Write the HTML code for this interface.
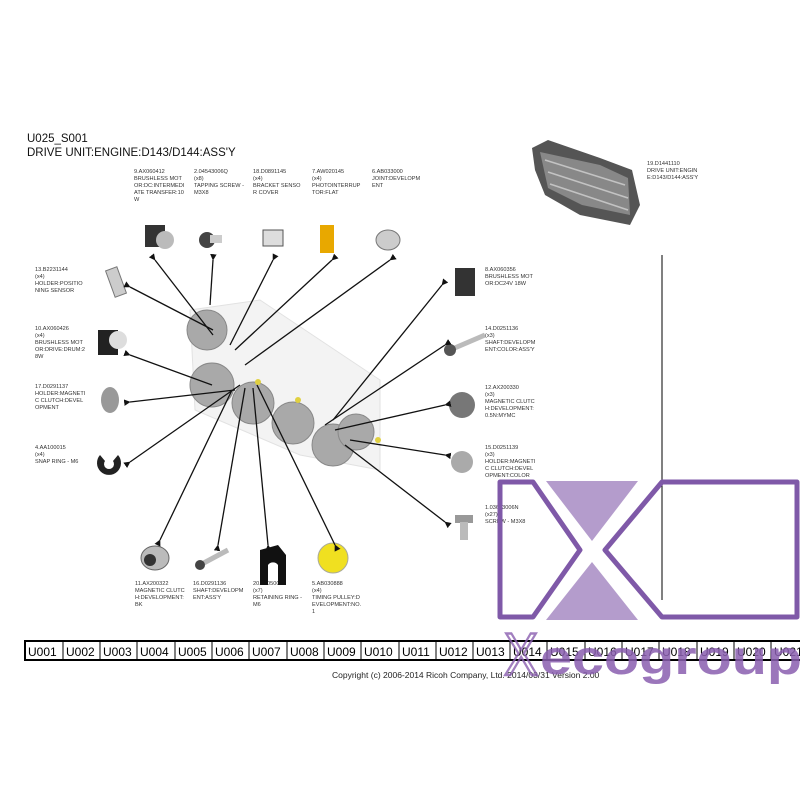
<!DOCTYPE html>
<html><head><meta charset="utf-8"><style>
body{margin:0;background:#fff;width:800px;height:800px;overflow:hidden;font-family:"Liberation Sans",sans-serif}
svg{position:absolute;left:0;top:0}
</style></head><body>
<svg width="800" height="800" viewBox="0 0 800 800" font-family="Liberation Sans, sans-serif">
<defs><marker id="a" viewBox="0 0 10 10" refX="1" refY="5" markerWidth="5" markerHeight="5" orient="auto-start-reverse"><path d="M0 5 L10 0 L10 10z" fill="#111"/></marker></defs>
<text x="27" y="142" font-size="11.5" fill="#111">U025_S001</text>
<text x="27" y="156" font-size="11.5" fill="#111">DRIVE UNIT:ENGINE:D143/D144:ASS'Y</text>
<g font-size="5.6" fill="#333">
<text x="134" y="173">9.AX060412</text><text x="134" y="180">BRUSHLESS MOT</text><text x="134" y="187">OR:DC:INTERMEDI</text><text x="134" y="194">ATE TRANSFER:10</text><text x="134" y="201">W</text>
<text x="194" y="173">2.04543006Q</text><text x="194" y="180">(x8)</text><text x="194" y="187">TAPPING SCREW -</text><text x="194" y="194">M3X8</text>
<text x="253" y="173">18.D0891145</text><text x="253" y="180">(x4)</text><text x="253" y="187">BRACKET SENSO</text><text x="253" y="194">R COVER</text>
<text x="312" y="173">7.AW020145</text><text x="312" y="180">(x4)</text><text x="312" y="187">PHOTOINTERRUP</text><text x="312" y="194">TOR:FLAT</text>
<text x="372" y="173">6.AB033000</text><text x="372" y="180">JOINT:DEVELOPM</text><text x="372" y="187">ENT</text>
<text x="647" y="165">19.D1441110</text><text x="647" y="172">DRIVE UNIT:ENGIN</text><text x="647" y="179">E:D143/D144:ASS'Y</text>
<text x="35" y="271">13.B2231144</text><text x="35" y="278">(x4)</text><text x="35" y="285">HOLDER:POSITIO</text><text x="35" y="292">NING SENSOR</text>
<text x="35" y="330">10.AX060426</text><text x="35" y="337">(x4)</text><text x="35" y="344">BRUSHLESS MOT</text><text x="35" y="351">OR:DRIVE:DRUM:2</text><text x="35" y="358">8W</text>
<text x="35" y="388">17.D0291137</text><text x="35" y="395">HOLDER:MAGNETI</text><text x="35" y="402">C CLUTCH:DEVEL</text><text x="35" y="409">OPMENT</text>
<text x="35" y="449">4.AA100015</text><text x="35" y="456">(x4)</text><text x="35" y="463">SNAP RING - M6</text>
<text x="485" y="271">8.AX060356</text><text x="485" y="278">BRUSHLESS MOT</text><text x="485" y="285">OR:DC24V 18W</text>
<text x="485" y="330">14.D0251136</text><text x="485" y="337">(x3)</text><text x="485" y="344">SHAFT:DEVELOPM</text><text x="485" y="351">ENT:COLOR:ASS'Y</text>
<text x="485" y="389">12.AX200330</text><text x="485" y="396">(x3)</text><text x="485" y="403">MAGNETIC CLUTC</text><text x="485" y="410">H:DEVELOPMENT:</text><text x="485" y="417">0.5N:MYMC</text>
<text x="485" y="449">15.D0251139</text><text x="485" y="456">(x3)</text><text x="485" y="463">HOLDER:MAGNETI</text><text x="485" y="470">C CLUTCH:DEVEL</text><text x="485" y="477">OPMENT:COLOR</text>
<text x="485" y="509">1.03613006N</text><text x="485" y="516">(x27)</text><text x="485" y="523">SCREW - M3X8</text>
<text x="135" y="585">11.AX200322</text><text x="135" y="592">MAGNETIC CLUTC</text><text x="135" y="599">H:DEVELOPMENT:</text><text x="135" y="606">BK</text>
<text x="193" y="585">16.D0291136</text><text x="193" y="592">SHAFT:DEVELOPM</text><text x="193" y="599">ENT:ASS'Y</text>
<text x="253" y="585">20.08050088</text><text x="253" y="592">(x7)</text><text x="253" y="599">RETAINING RING -</text><text x="253" y="606">M6</text>
<text x="312" y="585">5.AB030888</text><text x="312" y="592">(x4)</text><text x="312" y="599">TIMING PULLEY:D</text><text x="312" y="606">EVELOPMENT:NO.</text><text x="312" y="613">1</text>
</g>
<!-- unit image top right -->
<g>
<polygon points="532,148 548,140 600,158 632,170 640,205 630,225 580,215 545,195 535,170" fill="#555"/>
<polygon points="540,152 600,165 628,178 630,215 582,205 548,188" fill="#888"/>
<g stroke="#ddd" stroke-width="1.5" opacity=".7"><line x1="545" y1="160" x2="625" y2="185"/><line x1="548" y1="172" x2="628" y2="198"/><line x1="550" y1="184" x2="628" y2="210"/></g>
</g>
<line x1="662" y1="255" x2="662" y2="600" stroke="#000" stroke-width="1"/>
<!-- central assembly -->
<g fill="#f3f3f3" stroke="#e2e2e2"><path d="M190 310 L260 300 L380 380 L380 470 L300 455 L195 410 Z"/></g>
<g fill="#a9a9a9" stroke="#888">
<circle cx="207" cy="330" r="20"/><circle cx="212" cy="385" r="22"/><circle cx="253" cy="403" r="21"/><circle cx="293" cy="423" r="21"/><circle cx="333" cy="445" r="21"/><circle cx="356" cy="432" r="18"/>
</g>
<g fill="#e0d040"><circle cx="258" cy="382" r="3"/><circle cx="298" cy="400" r="3"/><circle cx="378" cy="440" r="3"/></g>
<!-- part icons -->
<g>
<rect x="145" y="225" width="20" height="22" fill="#333"/><circle cx="165" cy="240" r="9" fill="#bbb"/>
<circle cx="207" cy="240" r="8" fill="#444"/><rect x="210" y="235" width="12" height="8" fill="#ccc"/>
<rect x="263" y="230" width="20" height="16" fill="#ddd" stroke="#555"/>
<rect x="320" y="225" width="14" height="28" fill="#e8a800"/>
<ellipse cx="388" cy="240" rx="12" ry="10" fill="#ccc" stroke="#777"/>
<rect x="110" y="268" width="12" height="28" fill="#ccc" stroke="#777" transform="rotate(-20 116 282)"/>
<rect x="98" y="330" width="20" height="25" fill="#222"/><circle cx="118" cy="340" r="9" fill="#ddd"/>
<ellipse cx="110" cy="400" rx="9" ry="13" fill="#999"/>
<path d="M100 455 a12 12 0 1 0 18 0 l-5 6 a5 5 0 1 1 -8 0z" fill="#222"/>
<rect x="455" y="268" width="20" height="28" fill="#333"/>
<line x1="450" y1="350" x2="485" y2="335" stroke="#bbb" stroke-width="5"/><circle cx="450" cy="350" r="6" fill="#555"/>
<circle cx="462" cy="405" r="13" fill="#777"/>
<circle cx="462" cy="462" r="11" fill="#aaa"/>
<rect x="455" y="515" width="18" height="8" fill="#999"/><rect x="460" y="522" width="8" height="18" fill="#bbb"/>
<ellipse cx="155" cy="558" rx="14" ry="12" fill="#bbb" stroke="#666"/><circle cx="150" cy="560" r="6" fill="#333"/>
<line x1="200" y1="565" x2="228" y2="550" stroke="#bbb" stroke-width="5"/><circle cx="200" cy="565" r="5" fill="#444"/>
<path d="M260 550 l18 -5 l8 10 v30 h-8 v-20 a6 6 0 0 0 -10 0 v20 h-8z" fill="#111"/>
<ellipse cx="333" cy="558" rx="15" ry="15" fill="#f0e020" stroke="#aa9"/>
</g>
<g stroke="#111" stroke-width="1.3" marker-start="url(#a)">
<line x1="155" y1="260" x2="213" y2="335"/><line x1="213" y1="260" x2="210" y2="305"/><line x1="273" y1="260" x2="230" y2="345"/><line x1="332" y1="260" x2="235" y2="350"/><line x1="390" y1="260" x2="245" y2="365"/>
<line x1="130" y1="287" x2="213" y2="330"/><line x1="130" y1="355" x2="212" y2="385"/><line x1="130" y1="402" x2="235" y2="390"/><line x1="130" y1="462" x2="240" y2="385"/>
<line x1="160" y1="540" x2="232" y2="390"/><line x1="218" y1="545" x2="245" y2="388"/><line x1="268" y1="545" x2="253" y2="388"/><line x1="335" y1="545" x2="257" y2="385"/>
<line x1="442" y1="285" x2="333" y2="420"/><line x1="445" y1="345" x2="325" y2="425"/><line x1="445" y1="405" x2="335" y2="430"/><line x1="445" y1="455" x2="350" y2="440"/><line x1="445" y1="522" x2="345" y2="445"/>
</g>
<!-- tab bar -->
<rect x="25" y="641" width="790" height="19" fill="#fff" stroke="#000" stroke-width="2"/>
<g font-size="12" fill="#000">
<line x1="63" y1="642" x2="63" y2="659" stroke="#000"/><text x="28" y="656">U001</text>
<line x1="100" y1="642" x2="100" y2="659" stroke="#000"/><text x="66" y="656">U002</text>
<line x1="137" y1="642" x2="137" y2="659" stroke="#000"/><text x="103" y="656">U003</text>
<line x1="175" y1="642" x2="175" y2="659" stroke="#000"/><text x="140" y="656">U004</text>
<line x1="212" y1="642" x2="212" y2="659" stroke="#000"/><text x="178" y="656">U005</text>
<line x1="249" y1="642" x2="249" y2="659" stroke="#000"/><text x="215" y="656">U006</text>
<line x1="287" y1="642" x2="287" y2="659" stroke="#000"/><text x="252" y="656">U007</text>
<line x1="324" y1="642" x2="324" y2="659" stroke="#000"/><text x="290" y="656">U008</text>
<line x1="361" y1="642" x2="361" y2="659" stroke="#000"/><text x="327" y="656">U009</text>
<line x1="399" y1="642" x2="399" y2="659" stroke="#000"/><text x="364" y="656">U010</text>
<line x1="436" y1="642" x2="436" y2="659" stroke="#000"/><text x="402" y="656">U011</text>
<line x1="473" y1="642" x2="473" y2="659" stroke="#000"/><text x="439" y="656">U012</text>
<line x1="510" y1="642" x2="510" y2="659" stroke="#000"/><text x="476" y="656">U013</text>
<line x1="547" y1="642" x2="547" y2="659" stroke="#000"/><text x="513" y="656">U014</text>
<line x1="585" y1="642" x2="585" y2="659" stroke="#000"/><text x="550" y="656">U015</text>
<line x1="622" y1="642" x2="622" y2="659" stroke="#000"/><text x="588" y="656">U016</text>
<line x1="659" y1="642" x2="659" y2="659" stroke="#000"/><text x="625" y="656">U017</text>
<line x1="697" y1="642" x2="697" y2="659" stroke="#000"/><text x="662" y="656">U018</text>
<line x1="734" y1="642" x2="734" y2="659" stroke="#000"/><text x="700" y="656">U019</text>
<line x1="771" y1="642" x2="771" y2="659" stroke="#000"/><text x="737" y="656">U020</text>
<text x="774" y="656">U021</text>
</g>
<text x="332" y="678" font-size="8.5" fill="#222">Copyright (c) 2006-2014 Ricoh Company, Ltd.    2014/03/31 Version 2.00</text>
<!-- logo -->
<g fill="#b49ccc"><polygon points="546,481 638,481 592,541"/><polygon points="592,562 546,620 638,620"/></g>
<g fill="none" stroke="#7f59a8" stroke-width="5" stroke-linejoin="round">
<polygon points="500,482 533,482 580,550 533,617 500,617"/>
<polygon points="662,482 797,482 797,617 662,617 605,550"/>
</g>
<text x="504" y="675" font-size="60" fill="none" stroke="#8a5fb0" stroke-width="2.5" opacity=".8" textLength="34" lengthAdjust="spacingAndGlyphs">X</text>
<text x="540" y="674" font-size="48" font-weight="bold" fill="#8a5fb0" opacity=".85" textLength="262" lengthAdjust="spacingAndGlyphs">ecogroup</text>
</svg>
</body></html>
